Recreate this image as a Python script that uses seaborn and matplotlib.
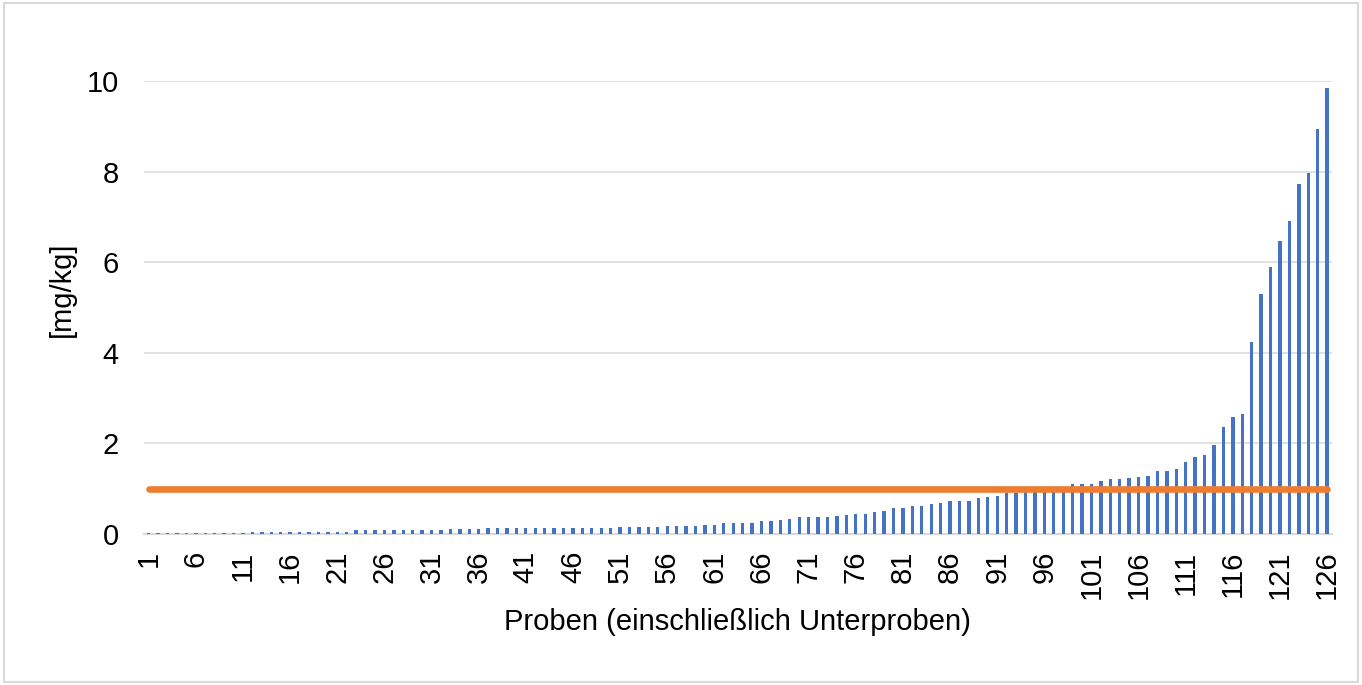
import numpy as np
import pandas as pd
import seaborn as sns
import matplotlib.pyplot as plt
from matplotlib.patches import Rectangle

# Proben 1..126, Messwerte in mg/kg (sortiert)
proben = list(range(1, 127))
werte = [
    0.03, 0.03, 0.03, 0.03, 0.03, 0.03, 0.03, 0.03, 0.03, 0.03,
    0.03, 0.055, 0.055, 0.055, 0.055, 0.055, 0.055, 0.055, 0.055, 0.055,
    0.055, 0.055, 0.08, 0.08, 0.08, 0.08, 0.08, 0.08, 0.08, 0.08,
    0.09, 0.09, 0.11, 0.11, 0.11, 0.11, 0.13, 0.13, 0.13, 0.13,
    0.13, 0.13, 0.13, 0.13, 0.13, 0.13, 0.13, 0.13, 0.13, 0.13,
    0.16, 0.16, 0.16, 0.16, 0.16, 0.18, 0.18, 0.18, 0.18, 0.20,
    0.20, 0.25, 0.25, 0.25, 0.25, 0.28, 0.28, 0.32, 0.34, 0.37,
    0.37, 0.37, 0.37, 0.39, 0.41, 0.45, 0.45, 0.48, 0.50, 0.57,
    0.57, 0.61, 0.61, 0.66, 0.68, 0.72, 0.72, 0.72, 0.79, 0.81,
    0.84, 0.90, 0.90, 0.94, 0.96, 0.98, 1.00, 1.03, 1.11, 1.11,
    1.11, 1.16, 1.21, 1.21, 1.23, 1.25, 1.27, 1.40, 1.40, 1.44,
    1.58, 1.69, 1.74, 1.96, 2.37, 2.58, 2.65, 4.23, 5.29, 5.90,
    6.47, 6.91, 7.73, 7.97, 8.94, 9.84,
]
grenzwert = [1.0] * len(proben)

df = pd.DataFrame({"Probe": proben, "Wert": werte, "Grenzwert": grenzwert})
df["pos"] = df.index  # Position auf der kategorialen Achse

sns.set_style("white")
plt.rcParams["font.family"] = ["Liberation Sans", "DejaVu Sans"]
plt.rcParams["text.color"] = "black"
plt.rcParams["axes.labelcolor"] = "black"
plt.rcParams["xtick.color"] = "black"
plt.rcParams["ytick.color"] = "black"

fs = 21

fig = plt.figure(figsize=(13.62, 6.85), dpi=100)
ax = fig.add_axes([0.1057, 0.2204, 0.8722, 0.6614])

sns.barplot(data=df, x="Probe", y="Wert", order=proben, width=0.36,
            color="#4472C4", saturation=1, linewidth=0, ax=ax, zorder=2)
sns.lineplot(data=df, x="pos", y="Grenzwert", color="#ED7D31", linewidth=4.8,
             solid_capstyle="round", ax=ax, zorder=3)

ax.set_xlim(-0.5, len(proben) - 0.5)
ax.set_ylim(0, 10)
ax.set_yticks([0, 2, 4, 6, 8, 10])
ax.set_xticks(df["pos"][::5])
ax.set_xticklabels([str(p) for p in proben[::5]], rotation=90, va="top", ha="center")
ax.tick_params(axis="x", length=0, pad=12, labelsize=fs)
ax.tick_params(axis="y", length=0, pad=18, labelsize=fs)
ax.grid(axis="y", color="#D9D9D9", linewidth=1.1, zorder=0)
ax.set_axisbelow(True)
for s in ["top", "right", "left"]:
    ax.spines[s].set_visible(False)
ax.spines["bottom"].set_color("#D9D9D9")
ax.spines["bottom"].set_linewidth(1.5)
ax.spines["bottom"].set_zorder(1)

ax.set_xlabel("Proben (einschließlich Unterproben)", fontsize=fs)
ax.set_ylabel("[mg/kg]", fontsize=fs)
ax.xaxis.set_label_coords(0.5, -0.163)
ax.yaxis.set_label_coords(-0.057, 0.54)

fig.patches.append(Rectangle((0.003, 0.004), 0.994, 0.992, transform=fig.transFigure,
                             fill=False, edgecolor="#D9D9D9", linewidth=1.5))

fig.savefig("out.png", dpi=100)
